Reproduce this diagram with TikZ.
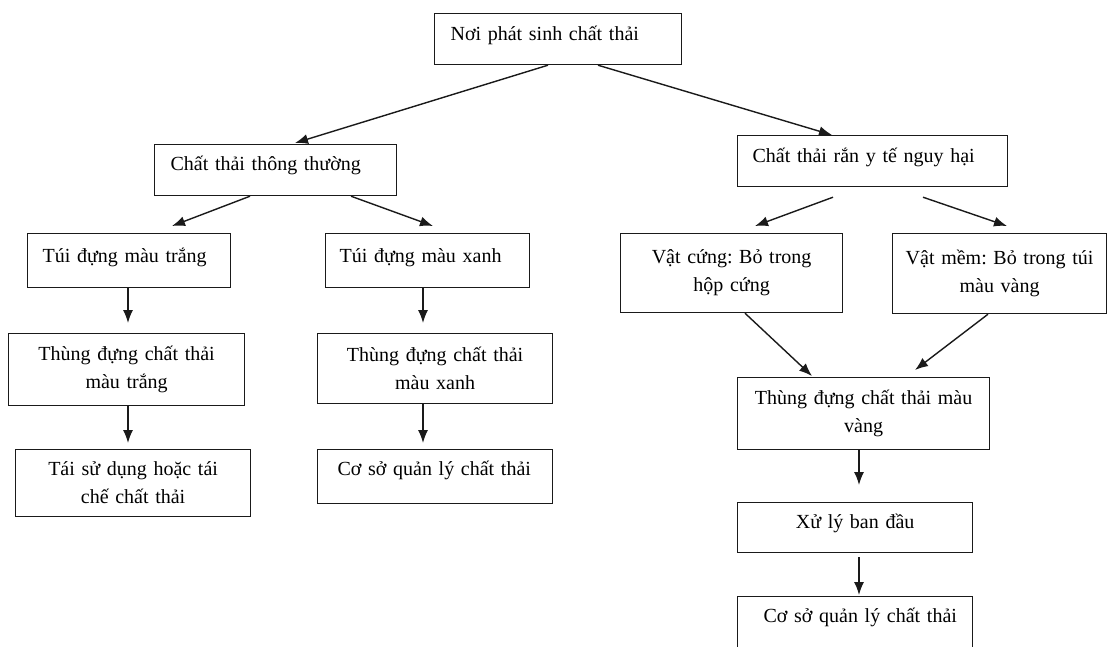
\documentclass[tikz,border=0pt]{standalone}
\usepackage{fontspec}
\setmainfont{Liberation Serif}
\usetikzlibrary{arrows.meta}
\frenchspacing
\definecolor{ink}{HTML}{1A1A1A}
\tikzset{
  box/.style={draw=ink, line width=1.2pt, inner sep=0pt, anchor=north west,
    font=\fontsize{20}{28}\selectfont\frenchspacing, text=black},
  lbox/.style={box, align=left},
  cbox/.style={box, align=center},
  arr/.style={draw=ink, line width=1.4pt, -{Latex[length=13pt,width=10pt]}}
}
\begin{document}
\begin{tikzpicture}[x=1pt,y=-1pt]
\clip (0,0) rectangle (1109,646);
\fill[white] (0,0) rectangle (1109,646);
% single-line, left aligned boxes (baseline set via text height/depth)
\node[lbox, text width=247pt, text height=27pt, text depth=24pt] (n1) at (434,13) {\hspace*{16pt}Nơi phát sinh chất thải};
\node[lbox, text width=242pt, text height=26pt, text depth=25pt] (n2) at (154,144) {\hspace*{16pt}Chất thải thông thường};
\node[lbox, text width=270pt, text height=27pt, text depth=24pt] (n3) at (737,135) {\hspace*{15pt}Chất thải rắn y tế nguy hại};
\node[lbox, text width=203pt, text height=29pt, text depth=25pt] (n4) at (27,233) {\hspace*{15pt}Túi đựng màu trắng};
\node[lbox, text width=204pt, text height=29pt, text depth=25pt] (n5) at (325,233) {\hspace*{14pt}Túi đựng màu xanh};
\node[lbox, text width=235pt, text height=26pt, text depth=28pt] (n12) at (317,449) {\hspace*{20pt}Cơ sở quản lý chất thải};
\node[lbox, text width=235pt, text height=26pt, text depth=40pt] (n14) at (737,596) {\hspace*{26pt}Cơ sở quản lý chất thải};
% centered boxes
\node[cbox, text width=222pt, minimum height=79pt] (n6) at (620,233) {Vật cứng: Bỏ trong\\hộp cứng};
\node[cbox, text width=214pt, minimum height=80pt] (n7) at (892,233) {Vật mềm: Bỏ trong túi\\màu vàng};
\node[cbox, text width=236pt, minimum height=72pt] (n8) at (8,333) {Thùng đựng chất thải\\màu trắng};
\node[cbox, text width=235pt, minimum height=70pt] (n9) at (317,333) {Thùng đựng chất thải\\màu xanh};
\node[cbox, text width=252pt, minimum height=72pt] (n10) at (737,377) {Thùng đựng chất thải màu\\vàng};
\node[cbox, text width=235pt, minimum height=67pt] (n11) at (15,449) {Tái sử dụng hoặc tái\\chế chất thải};
\node[cbox, text width=235pt, text height=26pt, text depth=24pt] (n13) at (737,502) {Xử lý ban đầu};
% connectors
\draw[arr] ([xshift=114pt]n1.south west) -- ([xshift=141pt,yshift=1pt]n2.north west);
\draw[arr] ([xshift=164pt]n1.south west) -- ([xshift=95pt]n3.north west);
\draw[arr] ([xshift=96pt]n2.south west) -- ([xshift=145pt,yshift=7pt]n4.north west);
\draw[arr] ([xshift=197pt]n2.south west) -- ([xshift=108pt,yshift=7pt]n5.north west);
\draw[arr] ([xshift=96pt,yshift=-10pt]n3.south west) -- ([xshift=135pt,yshift=7pt]n6.north west);
\draw[arr] ([xshift=186pt,yshift=-10pt]n3.south west) -- ([xshift=115pt,yshift=7pt]n7.north west);
\draw[arr] ([xshift=101pt]n4.south west) -- ([xshift=120pt,yshift=10pt]n8.north west);
\draw[arr] ([xshift=120pt]n8.south west) -- ([xshift=113pt,yshift=6pt]n11.north west);
\draw[arr] ([xshift=98pt]n5.south west) -- ([xshift=106pt,yshift=10pt]n9.north west);
\draw[arr] ([xshift=106pt]n9.south west) -- ([xshift=106pt,yshift=6pt]n12.north west);
\draw[arr] ([xshift=125pt]n6.south west) -- ([xshift=75pt,yshift=1pt]n10.north west);
\draw[arr] ([xshift=96pt]n7.south west) -- ([xshift=178pt,yshift=7pt]n10.north west);
\draw[arr] ([xshift=122pt]n10.south west) -- ([xshift=122pt,yshift=17pt]n13.north west);
\draw[arr] ([xshift=122pt,yshift=-4pt]n13.south west) -- ([xshift=122pt,yshift=1pt]n14.north west);
\end{tikzpicture}
\end{document}
